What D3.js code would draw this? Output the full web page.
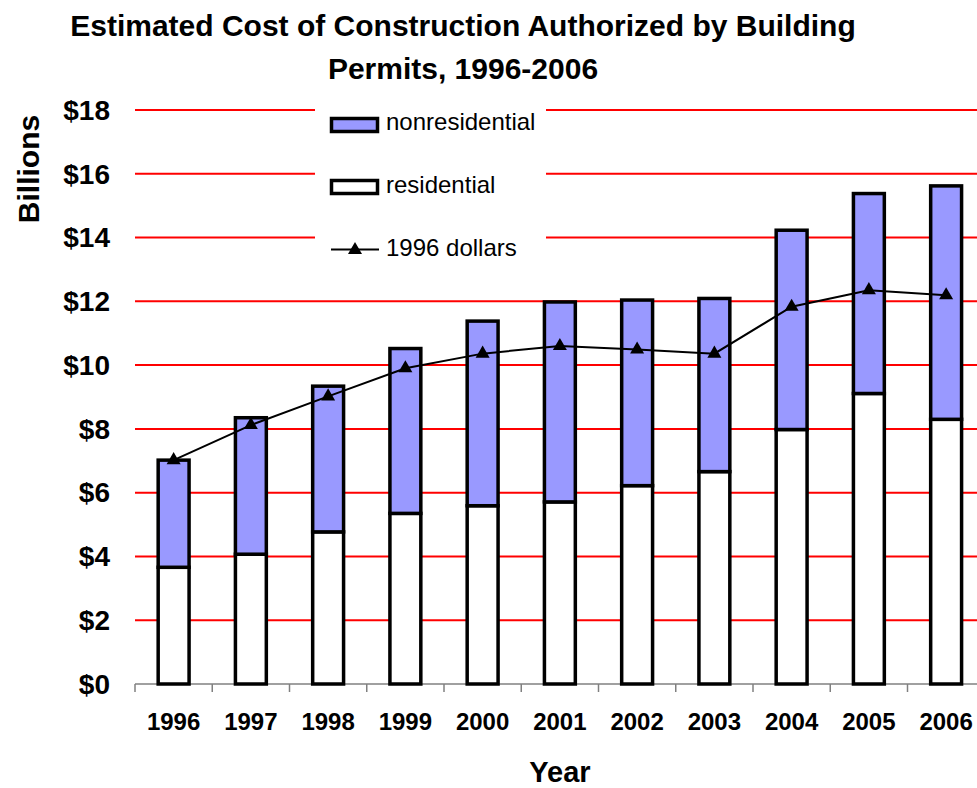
<!DOCTYPE html>
<html>
<head>
<meta charset="utf-8">
<script src="https://cdn.jsdelivr.net/npm/d3@7"></script>
<style>
  body { margin: 0; background: #fff; }
  svg { font-family: "Liberation Sans", Arial, sans-serif; }
</style>
</head>
<body>
<svg id="chart" width="977" height="788"></svg>
<script>
//////// data (billions of dollars)
var years = ["1996","1997","1998","1999","2000","2001","2002","2003","2004","2005","2006"]
var residential = [3.66, 4.07, 4.77, 5.35, 5.59, 5.71, 6.22, 6.66, 7.98, 9.11, 8.30]
var nonresidential = [3.36, 4.28, 4.57, 5.17, 5.79, 6.27, 5.82, 5.43, 6.25, 6.27, 7.32]
var dollars1996 = [7.02, 8.12, 9.02, 9.90, 10.36, 10.60, 10.49, 10.36, 11.83, 12.35, 12.19]
var yTicks = [0, 2, 4, 6, 8, 10, 12, 14, 16, 18]

var svg = d3.select("#chart")

var x = d3.scaleBand()
  .domain(years)
  .range([135, 984.75])
  .paddingInner(0.6)
  .paddingOuter(0.3)

var y = d3.scaleLinear().domain([0, 18]).range([684, 110])

//////// gridlines
svg.append("g")
  .selectAll("line")
  .data(yTicks.filter(d => d > 0))
  .join("line")
  .attr("x1", 135).attr("x2", 985)
  .attr("y1", d => y(d)).attr("y2", d => y(d))
  .attr("stroke", "#ff0000")
  .attr("stroke-width", 2)

//////// y labels
svg.append("g")
  .selectAll("text")
  .data(yTicks)
  .join("text")
  .attr("x", 110)
  .attr("y", d => y(d))
  .attr("dy", "0.35em")
  .attr("text-anchor", "end")
  .style("font-size", "28px")
  .style("font-weight", "bold")
  .text(d => "$" + d)

//////// x axis
var xAxis = svg.append("g")
xAxis.append("line")
  .attr("x1", 135).attr("x2", 985)
  .attr("y1", y(0)).attr("y2", y(0))
  .attr("stroke", "#808080").attr("stroke-width", 1.5)
xAxis.selectAll("line.tick")
  .data(years.map((d, i) => i))
  .join("line")
  .attr("class", "tick")
  .attr("x1", i => x(years[i]) - x.step() * x.paddingInner() / 2)
  .attr("x2", i => x(years[i]) - x.step() * x.paddingInner() / 2)
  .attr("y1", y(0)).attr("y2", y(0) + 8)
  .attr("stroke", "#808080").attr("stroke-width", 1.5)

svg.append("g")
  .selectAll("text")
  .data(years)
  .join("text")
  .attr("x", d => x(d) + x.bandwidth() / 2)
  .attr("y", 730)
  .attr("text-anchor", "middle")
  .style("font-size", "24px")
  .style("font-weight", "bold")
  .text(d => d)

//////// stacked bars
var rows = years.map((d, i) => ({ year: d, residential: residential[i], nonresidential: nonresidential[i] }))
var stack = d3.stack().keys(["residential", "nonresidential"])(rows)
var fills = { residential: "#ffffff", nonresidential: "#9999ff" }

svg.append("g")
  .selectAll("g")
  .data(stack)
  .join("g")
  .attr("fill", d => fills[d.key])
  .selectAll("rect")
  .data(d => d)
  .join("rect")
  .attr("x", d => x(d.data.year))
  .attr("width", x.bandwidth())
  .attr("y", d => y(d[1]))
  .attr("height", d => y(d[0]) - y(d[1]))
  .attr("stroke", "#000")
  .attr("stroke-width", 3.5)

//////// 1996 dollars line
var line = d3.line()
  .x((d, i) => x(years[i]) + x.bandwidth() / 2)
  .y(d => y(d))
svg.append("path")
  .datum(dollars1996)
  .attr("d", line)
  .attr("fill", "none")
  .attr("stroke", "#000")
  .attr("stroke-width", 2)

var tri = d3.symbol().type(d3.symbolTriangle).size(85)
svg.append("g")
  .selectAll("path")
  .data(dollars1996)
  .join("path")
  .attr("d", tri)
  .attr("transform", (d, i) => "translate(" + (x(years[i]) + x.bandwidth() / 2) + "," + y(d) + ")")
  .attr("fill", "#000")

//////// legend
var legend = svg.append("g")
legend.append("rect")
  .attr("x", 315).attr("y", 98).attr("width", 231).attr("height", 168)
  .attr("fill", "#fff")

legend.append("rect")
  .attr("x", 331.5).attr("y", 118.5).attr("width", 46).attr("height", 13)
  .attr("fill", fills.nonresidential).attr("stroke", "#000").attr("stroke-width", 3.5)
legend.append("rect")
  .attr("x", 331.5).attr("y", 180.5).attr("width", 46).attr("height", 13)
  .attr("fill", fills.residential).attr("stroke", "#000").attr("stroke-width", 3.5)
legend.append("line")
  .attr("x1", 331).attr("x2", 379).attr("y1", 249.5).attr("y2", 249.5)
  .attr("stroke", "#000").attr("stroke-width", 2)
legend.append("path")
  .attr("d", tri)
  .attr("transform", "translate(355,250)")
  .attr("fill", "#000")

var legendText = [["nonresidential", 130], ["residential", 193], ["1996 dollars", 256]]
legend.selectAll("text")
  .data(legendText)
  .join("text")
  .attr("x", 386)
  .attr("y", d => d[1])
  .style("font-size", "24px")
  .text(d => d[0])

//////// titles
svg.append("text")
  .attr("x", 463).attr("y", 36)
  .attr("text-anchor", "middle")
  .style("font-size", "30px").style("font-weight", "bold")
  .text("Estimated Cost of Construction Authorized by Building")
svg.append("text")
  .attr("x", 463).attr("y", 79)
  .attr("text-anchor", "middle")
  .style("font-size", "30px").style("font-weight", "bold")
  .text("Permits, 1996-2006")

svg.append("text")
  .attr("x", 560).attr("y", 782)
  .attr("text-anchor", "middle")
  .style("font-size", "29px").style("font-weight", "bold")
  .text("Year")

svg.append("text")
  .attr("transform", "translate(39,169) rotate(-90)")
  .attr("text-anchor", "middle")
  .style("font-size", "30px").style("font-weight", "bold")
  .text("Billions")
</script>
</body>
</html>
